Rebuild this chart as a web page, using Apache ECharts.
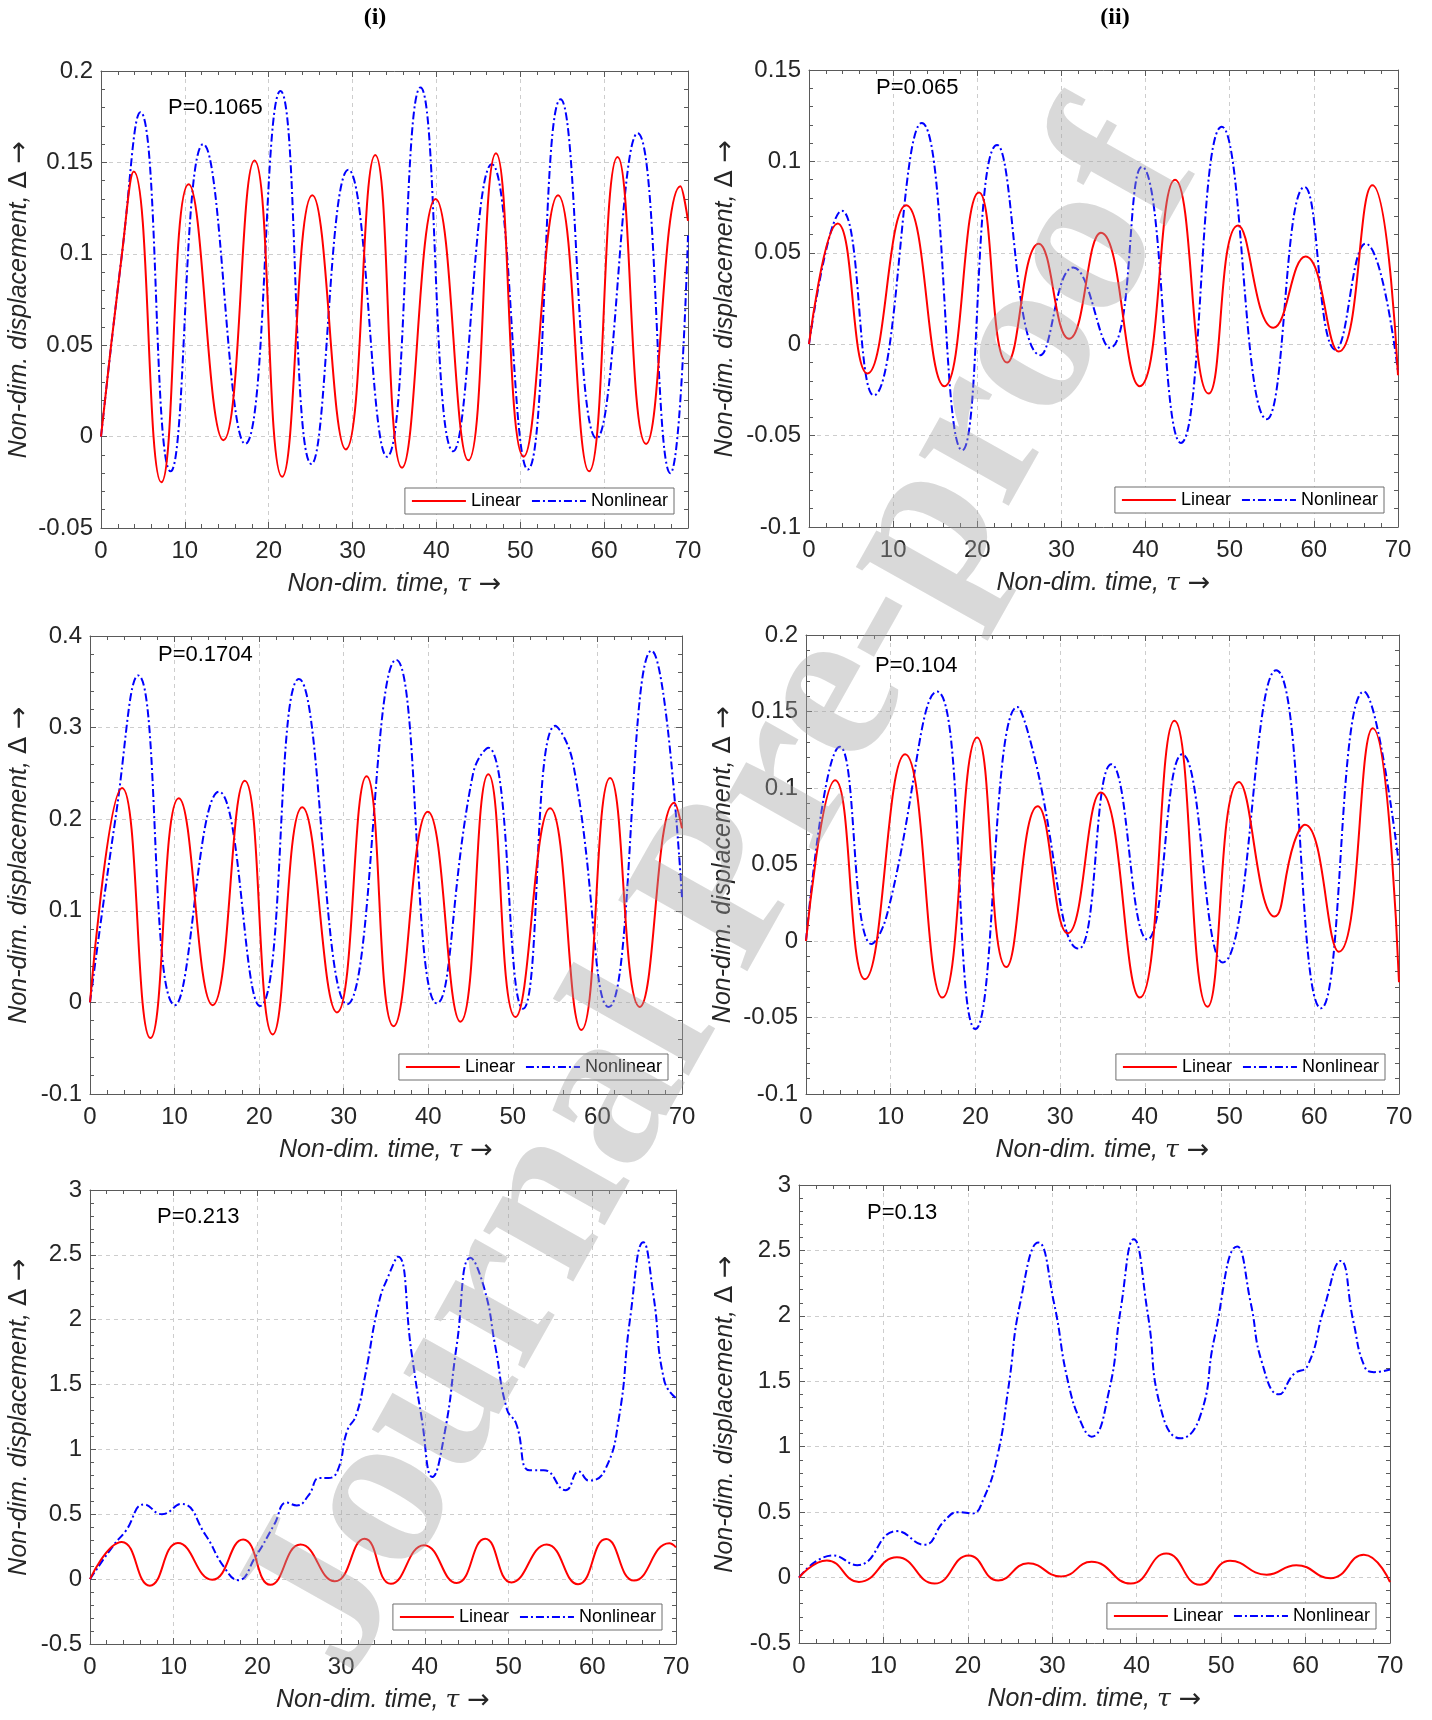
<!DOCTYPE html>
<html>
<head>
<meta charset="utf-8">
<title>Linear vs nonlinear displacement</title>
<script src="https://cdn.jsdelivr.net/npm/echarts@6/dist/echarts.min.js"></script>
<style>
  html, body { margin: 0; padding: 0; background: #fff; }
  #chart { width: 1432px; height: 1720px; }
</style>
</head>
<body>
<div id="chart"></div>
<script>
// values: peaks, troughs and shoulders of each curve
// column (i), row 1 : P=0.1065
var tau_i1_lin = [0, 2.5, 3.9, 7.2, 10.45, 14.6, 18.3, 21.6, 25.2, 29.2, 32.7, 35.9, 39.9, 43.8, 47.1, 50.4, 54.5, 58.2, 61.6, 65.0, 69.1, 70];
var disp_i1_lin = [0, 0.10, 0.145, -0.025, 0.138, -0.002, 0.151, -0.022, 0.132, -0.007, 0.154, -0.017, 0.130, -0.013, 0.155, -0.011, 0.132, -0.019, 0.153, -0.004, 0.137, 0.118];
var tau_i1_non = [0, 2.5, 4.7, 8.3, 12.2, 17.2, 21.4, 25.1, 29.5, 34.1, 38.1, 42.0, 46.6, 50.9, 54.8, 59.1, 64.0, 67.9, 70];
var disp_i1_non = [0, 0.10, 0.1775, -0.019, 0.160, -0.004, 0.189, -0.015, 0.146, -0.011, 0.191, -0.008, 0.149, -0.018, 0.1845, -0.001, 0.166, -0.020, 0.11];

// column (ii), row 1 : P=0.065
var tau_ii1_lin = [0, 3.4, 6.95, 11.55, 16.1, 20.2, 23.55, 27.3, 30.9, 34.7, 39.3, 43.5, 47.5, 51.0, 55.2, 59.0, 62.95, 66.95, 70];
var disp_ii1_lin = [0, 0.066, -0.016, 0.076, -0.023, 0.083, -0.010, 0.055, 0.003, 0.061, -0.023, 0.090, -0.027, 0.065, 0.009, 0.048, -0.004, 0.087, -0.017];
var tau_ii1_non = [0, 3.9, 7.7, 13.4, 18.2, 22.35, 27.5, 31.4, 35.75, 39.55, 44.2, 49.05, 54.4, 58.9, 62.6, 66.15, 70];
var disp_ii1_non = [0, 0.073, -0.028, 0.121, -0.058, 0.109, -0.006, 0.042, -0.002, 0.097, -0.054, 0.119, -0.041, 0.086, -0.003, 0.055, -0.015];

// column (i), row 2 : P=0.1704
var tau_i2_lin = [0, 3.8, 7.15, 10.5, 14.5, 18.3, 21.6, 25.1, 29.2, 32.7, 35.9, 39.95, 43.8, 47.1, 50.3, 54.4, 58.1, 61.5, 65.0, 69.1, 70];
var disp_i2_lin = [0, 0.234, -0.039, 0.223, -0.003, 0.242, -0.035, 0.213, -0.011, 0.247, -0.026, 0.208, -0.021, 0.249, -0.016, 0.212, -0.030, 0.245, -0.005, 0.218, 0.19];
var tau_i2_non = [0, 3.0, 5.7, 10.05, 15.25, 20.1, 24.7, 30.4, 36.2, 41.0, 45.3, 47.1, 51.2, 55.0, 57.1, 61.35, 66.4, 70];
var disp_i2_non = [0, 0.20, 0.357, -0.003, 0.230, -0.004, 0.353, -0.002, 0.374, -0.001, 0.25, 0.278, -0.007, 0.302, 0.262, -0.005, 0.384, 0.115];

// column (ii), row 2 : P=0.104
var tau_ii2_lin = [0, 3.45, 6.95, 11.7, 16.1, 20.2, 23.65, 27.35, 30.9, 34.8, 39.4, 43.5, 47.4, 51.1, 55.3, 57.6, 58.9, 62.9, 66.9, 70];
var disp_ii2_lin = [0, 0.105, -0.025, 0.122, -0.037, 0.133, -0.017, 0.088, 0.005, 0.097, -0.037, 0.144, -0.043, 0.104, 0.016, 0.064, 0.076, -0.007, 0.139, -0.027];
var tau_ii2_non = [0, 4.0, 7.75, 9.55, 15.5, 20.0, 24.95, 26.8, 32.2, 36.05, 40.3, 44.4, 49.2, 55.5, 60.8, 65.85, 70];
var disp_ii2_non = [0, 0.127, -0.002, 0.017, 0.163, -0.0575, 0.153, 0.124, -0.005, 0.1155, 0.001, 0.122, -0.014, 0.177, -0.044, 0.163, 0.050];

// column (i), row 3 : P=0.213
var tau_i3_lin = [0, 3.8, 7.15, 10.5, 14.6, 18.3, 21.55, 25.15, 29.25, 32.8, 35.95, 39.9, 43.8, 47.2, 50.35, 54.55, 58.3, 61.65, 65.0, 69.2, 70];
var disp_i3_lin = [0, 0.287, -0.05, 0.278, -0.005, 0.306, -0.044, 0.267, -0.017, 0.311, -0.036, 0.262, -0.03, 0.311, -0.025, 0.267, -0.039, 0.309, -0.011, 0.276, 0.245];
var tau_i3_non = [0, 2.8, 4.25, 6.5, 8.6, 10.9, 13.8, 16.0, 17.7, 19.8, 22.0, 23.5, 24.7, 26.1, 27.4, 28.5, 29.6, 30.7, 31.8, 32.9, 34.5, 35.6, 36.8, 38.4, 39.6, 40.9, 42.4, 43.8, 45.45, 47.1, 48.4, 49.8, 50.9, 52.5, 54.2, 56.8, 58.4, 59.6, 61.5, 63.2, 64.5, 66.1, 67.3, 68.6, 70];
var disp_i3_non = [0, 0.26, 0.37, 0.576, 0.50, 0.58, 0.34, 0.094, -0.008, 0.176, 0.42, 0.59, 0.568, 0.645, 0.78, 0.78, 0.84, 1.14, 1.265, 1.58, 2.13, 2.33, 2.486, 1.75, 1.25, 0.788, 1.14, 1.80, 2.478, 2.24, 1.80, 1.31, 1.2, 0.84, 0.84, 0.686, 0.83, 0.76, 0.84, 1.25, 2.0, 2.597, 2.19, 1.53, 1.395];

// column (ii), row 3 : P=0.13
var tau_ii3_lin = [0, 3.3, 7.1, 11.6, 16.05, 20.1, 23.6, 27.15, 31.05, 34.65, 39.3, 43.5, 47.5, 51.05, 55.4, 58.9, 62.95, 66.9, 70];
var disp_ii3_lin = [0, 0.131, -0.033, 0.155, -0.046, 0.169, -0.022, 0.109, 0.008, 0.12, -0.046, 0.183, -0.055, 0.128, 0.022, 0.095, -0.005, 0.175, -0.035];
var tau_ii3_non = [0, 4.0, 6.9, 11.6, 14.8, 17.25, 18.9, 20.5, 21.85, 23.5, 24.8, 26.2, 28.35, 30.2, 31.85, 33.5, 34.65, 36.7, 38.1, 39.65, 41.3, 42.9, 45.2, 47.5, 49.2, 51.9, 53.5, 54.85, 56.85, 58.6, 60.25, 62.15, 64.15, 65.65, 67.0, 68.1, 70];
var disp_ii3_non = [0, 0.169, 0.095, 0.355, 0.251, 0.436, 0.50, 0.49, 0.60, 0.93, 1.45, 2.10, 2.56, 2.10, 1.5, 1.17, 1.077, 1.42, 2.05, 2.586, 2.02, 1.28, 1.064, 1.23, 1.83, 2.53, 2.10, 1.64, 1.40, 1.555, 1.62, 2.05, 2.42, 1.96, 1.61, 1.57, 1.59];

var loadLabels = ['P=0.1065', 'P=0.065', 'P=0.1704', 'P=0.104', 'P=0.213', 'P=0.13'];
var yRanges = [[-0.05, 0.2, 0.05], [-0.1, 0.15, 0.05], [-0.1, 0.4, 0.1], [-0.1, 0.2, 0.05], [-0.5, 3, 0.5], [-0.5, 3, 0.5]];
var xRange = [0, 70, 10];
var seriesNames = ['Linear', 'Nonlinear'];

var curves = [
  [[tau_i1_lin, disp_i1_lin], [tau_i1_non, disp_i1_non]],
  [[tau_ii1_lin, disp_ii1_lin], [tau_ii1_non, disp_ii1_non]],
  [[tau_i2_lin, disp_i2_lin], [tau_i2_non, disp_i2_non]],
  [[tau_ii2_lin, disp_ii2_lin], [tau_ii2_non, disp_ii2_non]],
  [[tau_i3_lin, disp_i3_lin], [tau_i3_non, disp_i3_non]],
  [[tau_ii3_lin, disp_ii3_lin], [tau_ii3_non, disp_ii3_non]]
];

// layout of the six axes boxes (px)
var boxes = [
  { left: 101, top: 71, width: 587, height: 457, nameGap: 68, pText: [168, 108] },
  { left: 809, top: 70, width: 589, height: 457, nameGap: 70, pText: [876, 88] },
  { left: 90, top: 636, width: 592, height: 458, nameGap: 57, pText: [158, 655] },
  { left: 806, top: 635, width: 593, height: 459, nameGap: 69, pText: [875, 666] },
  { left: 90, top: 1190, width: 586, height: 454, nameGap: 57, pText: [157, 1217] },
  { left: 799, top: 1185, width: 591, height: 458, nameGap: 60, pText: [867, 1213] }
];

var W = 1432, H = 1720;
var FONT = '"Liberation Sans", Arial, Helvetica, sans-serif';
var axisColor = '#5a5a5a';
var textColor = '#262626';

// axis titles: italic sans text, italic serif tau, upright delta and a math arrow
var nameRich = {
  it: { fontSize: 25, fontStyle: 'italic', fontFamily: FONT, color: textColor },
  gr: { fontSize: 25, fontStyle: 'italic', fontFamily: '"DejaVu Serif", serif', color: textColor },
  up: { fontSize: 25, fontStyle: 'normal', fontFamily: '"DejaVu Sans", sans-serif', color: textColor },
  ar: { fontSize: 27, fontStyle: 'normal', fontFamily: '"DejaVu Sans", sans-serif', color: textColor, padding: [0, 0, 0, 8] }
};

function pairs(t, y) {
  return t.map(function (v, i) { return [v, y[i]]; });
}

var chart = echarts.init(document.getElementById('chart'), null, { renderer: 'canvas' });

var grid = [], xAxis = [], yAxis = [], series = [], legend = [], graphic = [];

boxes.forEach(function (b, k) {
  grid.push({ left: b.left, top: b.top, width: b.width, height: b.height, containLabel: false });

  var tickCommon = {
    axisLine: { show: true, onZero: false, lineStyle: { color: axisColor, width: 1 } },
    axisTick: { show: true, inside: true, length: 6, lineStyle: { color: axisColor } },
    minorTick: { show: true, splitNumber: 5, length: 4, lineStyle: { color: axisColor } }
  };
  var gridLine = { show: true, lineStyle: { color: '#cdcdcd', type: [4, 4], width: 1 } };

  // bottom x axis with labels
  xAxis.push(Object.assign({
    type: 'value', gridIndex: k, position: 'bottom',
    min: xRange[0], max: xRange[1], interval: xRange[2],
    name: '{it|Non-dim. time, }{gr|τ}{ar|→}', nameLocation: 'middle', nameGap: 43,
    nameTextStyle: { rich: nameRich },
    axisLabel: { fontSize: 24, color: textColor, margin: 11, fontFamily: FONT },
    splitLine: gridLine
  }, tickCommon));
  // top x axis: box edge + ticks only
  xAxis.push(Object.assign({
    type: 'value', gridIndex: k, position: 'top',
    min: xRange[0], max: xRange[1], interval: xRange[2],
    axisLabel: { show: false }, splitLine: { show: false }
  }, tickCommon));

  var yr = yRanges[k];
  yAxis.push(Object.assign({
    type: 'value', gridIndex: k, position: 'left',
    min: yr[0], max: yr[1], interval: yr[2],
    name: '{it|Non-dim. displacement, }{up|Δ}{ar|→}', nameLocation: 'middle', nameGap: b.nameGap, nameRotate: 90,
    nameTextStyle: { rich: nameRich },
    axisLabel: { fontSize: 24, color: textColor, margin: 8, fontFamily: FONT },
    splitLine: gridLine
  }, tickCommon));
  yAxis.push(Object.assign({
    type: 'value', gridIndex: k, position: 'right',
    min: yr[0], max: yr[1], interval: yr[2],
    axisLabel: { show: false }, splitLine: { show: false }
  }, tickCommon));

  var lin = curves[k][0], non = curves[k][1];
  series.push({
    name: seriesNames[0], type: 'line', xAxisIndex: 2 * k, yAxisIndex: 2 * k,
    data: pairs(lin[0], lin[1]), smooth: 0.5, symbol: 'none', showSymbol: false,
    lineStyle: { color: '#ff0000', width: 2 }, itemStyle: { color: '#ff0000' },
    clip: true, z: 3
  });
  series.push({
    name: seriesNames[1], type: 'line', xAxisIndex: 2 * k, yAxisIndex: 2 * k,
    data: pairs(non[0], non[1]), smooth: 0.5, symbol: 'none', showSymbol: false,
    lineStyle: { color: '#0000ff', width: 2, type: [8, 3, 2, 3] }, itemStyle: { color: '#0000ff' },
    clip: true, z: 2
  });

  legend.push({
    data: seriesNames, orient: 'horizontal',
    right: W - (b.left + b.width - 14), bottom: H - (b.top + b.height - 14),
    itemWidth: 54, itemHeight: 14, itemGap: 10,
    padding: [4, 6], borderColor: '#6f6f6f', borderWidth: 1, backgroundColor: '#fff',
    itemStyle: { color: 'rgba(0,0,0,0)', borderColor: 'rgba(0,0,0,0)', borderWidth: 0 },
    textStyle: { fontSize: 18, color: '#000', fontFamily: FONT },
    selectedMode: false
  });

  graphic.push({
    type: 'text', x: b.pText[0], y: b.pText[1], z: 10,
    style: { text: loadLabels[k], fontSize: 22, fontFamily: FONT, fill: '#000', align: 'left', verticalAlign: 'middle' }
  });
});

// column headings
graphic.push({ type: 'text', x: 375, y: 18, z: 10,
  style: { text: '(i)', font: 'bold 24px "Liberation Serif", "Times New Roman", serif', fill: '#000', align: 'center', verticalAlign: 'middle' } });
graphic.push({ type: 'text', x: 1115, y: 18, z: 10,
  style: { text: '(ii)', font: 'bold 24px "Liberation Serif", "Times New Roman", serif', fill: '#000', align: 'center', verticalAlign: 'middle' } });

// "Journal Pre-proof" watermark across the page
graphic.push({
  type: 'text', x: 724, y: 894, rotation: 60.7 * Math.PI / 180, z: 100, silent: true,
  style: {
    text: 'Journal Pre-proof',
    font: 'bold 225px "Liberation Serif", "Times New Roman", serif',
    fill: 'rgba(160,160,160,0.4)', align: 'center', verticalAlign: 'middle'
  }
});

chart.setOption({
  animation: false,
  backgroundColor: '#fff',
  textStyle: { fontFamily: FONT },
  grid: grid,
  xAxis: xAxis,
  yAxis: yAxis,
  legend: legend,
  series: series,
  graphic: graphic
});
</script>
</body>
</html>
